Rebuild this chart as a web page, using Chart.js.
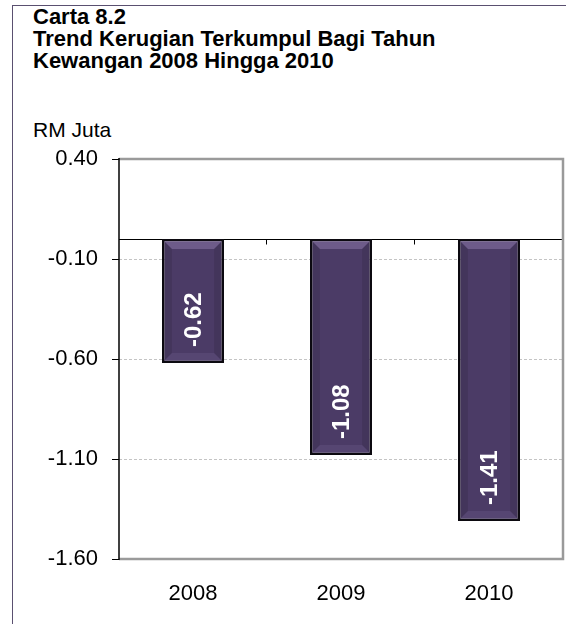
<!DOCTYPE html>
<html>
<head>
<meta charset="utf-8">
<script src="https://cdn.jsdelivr.net/npm/chart.js@4.4.1/dist/chart.umd.min.js"></script>
<style>
  html, body { margin: 0; padding: 0; background: #fff; }
  body { width: 566px; height: 624px; position: relative; overflow: hidden; font-family: "Liberation Sans", Arial, sans-serif; }
  #frame { position: absolute; left: 12px; top: 5px; width: 600px; height: 700px; border: 1.5px solid #5a5070; }
  #title { position: absolute; left: 33px; top: 6px; font-weight: bold; font-size: 22px; line-height: 22px; color: #000; }
  #unit { position: absolute; left: 33px; top: 118px; font-size: 21px; color: #000; }
  #chart-wrap { position: absolute; left: 0; top: 0; width: 566px; height: 624px; }
</style>
</head>
<body>
<div id="frame"></div>
<div id="title">Carta 8.2<br>Trend Kerugian Terkumpul Bagi Tahun<br>Kewangan 2008 Hingga 2010</div>
<div id="unit">RM Juta</div>
<div id="chart-wrap"><canvas id="chart"></canvas></div>
<script>
const years = ['2008', '2009', '2010'];
const losses = [-0.62, -1.08, -1.41];
const yTicks = [0.40, -0.10, -0.60, -1.10, -1.60];

window.addEventListener('DOMContentLoaded', () => {
  const ctx = document.getElementById('chart');

  // zero line + small category ticks, drawn under the bars
  const zeroLine = {
    id: 'zeroLine',
    beforeDatasetsDraw(chart) {
      const { ctx, chartArea, scales } = chart;
      const y0 = Math.round(scales.y.getPixelForValue(0)) + 0.5;
      ctx.save();
      ctx.strokeStyle = '#000';
      ctx.lineWidth = 1;
      ctx.beginPath();
      ctx.moveTo(chartArea.left, y0);
      ctx.lineTo(chartArea.right, y0);
      const step = (chartArea.right - chartArea.left) / years.length;
      for (let i = 1; i <= years.length; i++) {
        const x = Math.round(chartArea.left + step * i) - 0.5;
        ctx.moveTo(x, y0);
        ctx.lineTo(x, y0 + 5);
      }
      ctx.stroke();
      ctx.restore();
    }
  };

  // plot border, bevel on bars, rotated value labels
  const decorations = {
    id: 'decorations',
    afterDatasetsDraw(chart) {
      const { ctx, chartArea } = chart;
      ctx.save();
      ctx.strokeStyle = '#9a9a9a';
      ctx.lineWidth = 2.5;
      ctx.beginPath();
      ctx.moveTo(chartArea.left, chartArea.top);
      ctx.lineTo(chartArea.right, chartArea.top);
      ctx.lineTo(chartArea.right, chartArea.bottom);
      ctx.lineTo(chartArea.left, chartArea.bottom);
      ctx.stroke();
      ctx.strokeStyle = '#000';
      ctx.lineWidth = 1.5;
      ctx.beginPath();
      ctx.moveTo(chartArea.left, chartArea.top - 1);
      ctx.lineTo(chartArea.left, chartArea.bottom + 1);
      ctx.stroke();

      chart.getDatasetMeta(0).data.forEach((bar, i) => {
        const l = bar.x - bar.width / 2 + 2;
        const r = bar.x + bar.width / 2 - 2;
        const t = Math.min(bar.y, bar.base) + 2;
        const b = Math.max(bar.y, bar.base) - 2;
        const d = 8;
        ctx.fillStyle = 'rgba(160,140,190,0.4)';
        ctx.beginPath();
        ctx.moveTo(l, t); ctx.lineTo(r, t); ctx.lineTo(r - d, t + d); ctx.lineTo(l + d, t + d);
        ctx.closePath(); ctx.fill();
        ctx.fillStyle = 'rgba(120,105,150,0.25)';
        ctx.beginPath();
        ctx.moveTo(l, b); ctx.lineTo(r, b); ctx.lineTo(r - d, b - d); ctx.lineTo(l + d, b - d);
        ctx.closePath(); ctx.fill();
        ctx.fillStyle = 'rgba(0,0,0,0.1)';
        ctx.beginPath();
        ctx.moveTo(l, t); ctx.lineTo(l + d, t + d); ctx.lineTo(l + d, b - d); ctx.lineTo(l, b);
        ctx.closePath(); ctx.fill();
        ctx.beginPath();
        ctx.moveTo(r, t); ctx.lineTo(r - d, t + d); ctx.lineTo(r - d, b - d); ctx.lineTo(r, b);
        ctx.closePath(); ctx.fill();

        ctx.save();
        ctx.translate(bar.x, Math.max(bar.y, bar.base) - 16);
        ctx.rotate(-Math.PI / 2);
        ctx.fillStyle = '#fff';
        ctx.font = 'bold 24px "Liberation Sans", Arial, sans-serif';
        ctx.textAlign = 'left';
        ctx.textBaseline = 'middle';
        ctx.fillText(losses[i].toFixed(2), 0, 1);
        ctx.restore();
      });
      ctx.restore();
    }
  };

  new Chart(ctx, {
    type: 'bar',
    data: {
      labels: years,
      datasets: [{
        data: losses,
        backgroundColor: '#4b3b66',
        borderColor: '#0c0a10',
        borderWidth: 2.5,
        borderSkipped: false,
        barPercentage: 0.42,
        categoryPercentage: 1
      }]
    },
    options: {
      responsive: true,
      maintainAspectRatio: false,
      animation: false,
      layout: { padding: { top: 159, right: 3, left: 0, bottom: 0 } },
      plugins: {
        legend: { display: false },
        tooltip: { enabled: false }
      },
      scales: {
        x: {
          grid: { display: false },
          border: { display: false },
          ticks: {
            color: '#000',
            padding: 14,
            font: { size: 22, family: '"Liberation Sans", Arial, sans-serif' }
          },
          afterFit: (s) => { s.height = 65; }
        },
        y: {
          min: -1.6,
          max: 0.4,
          afterBuildTicks: (s) => { s.ticks = yTicks.map(v => ({ value: v })); },
          afterFit: (s) => { s.width = 119; },
          border: { display: false, dash: [3, 2] },
          grid: {
            color: (c) => (c.tick && (c.tick.value === 0.4 || c.tick.value === -1.6)) ? 'rgba(0,0,0,0)' : '#c4c4c4',
            tickColor: '#000',
            tickLength: 7,
            tickBorderDash: []
          },
          ticks: {
            color: '#000',
            padding: 14,
            font: { size: 22, family: '"Liberation Sans", Arial, sans-serif' },
            callback: (v) => Number(v).toFixed(2)
          }
        }
      }
    },
    plugins: [zeroLine, decorations]
  });
});
</script>
</body>
</html>
